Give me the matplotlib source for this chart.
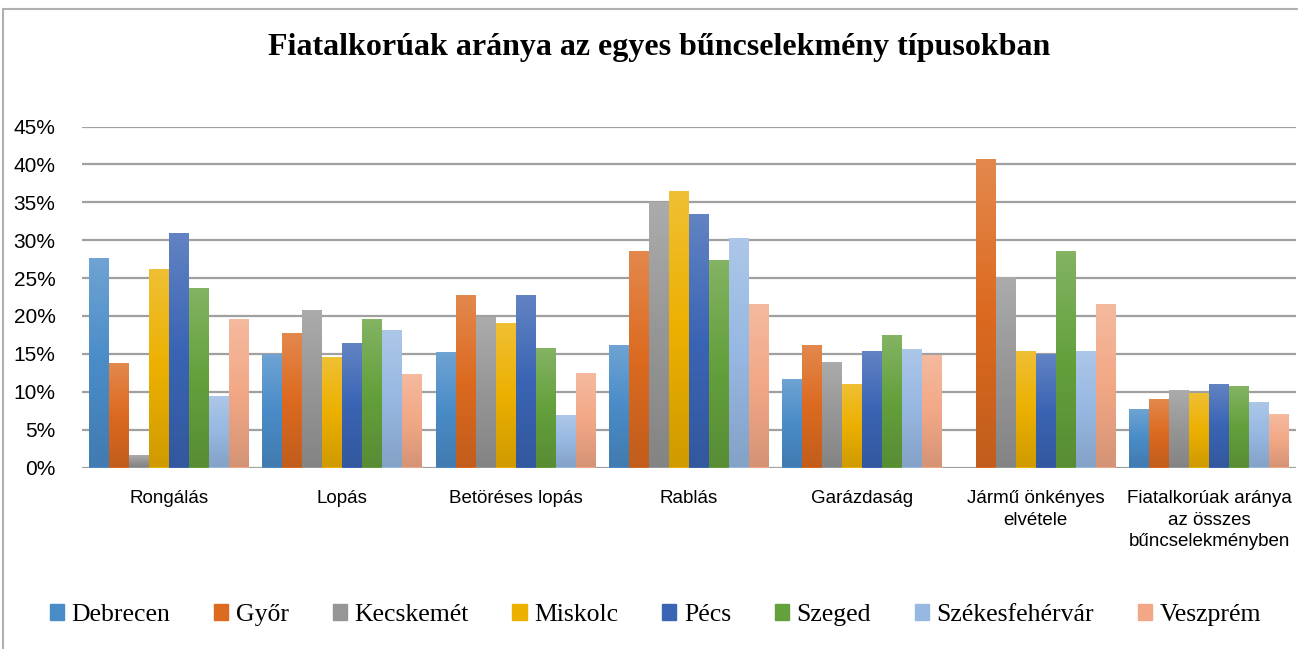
"""Fiatalkorúak aránya az egyes bűncselekmény típusokban — csoportos oszlopdiagram."""
import matplotlib
matplotlib.use("Agg")
import matplotlib.pyplot as plt
import numpy as np
from matplotlib.colors import LinearSegmentedColormap, to_rgb
from matplotlib.patches import Patch, Rectangle

KATEGORIAK = ["Rongálás", "Lopás", "Betöréses lopás", "Rablás", "Garázdaság",
              "Jármű önkényes\nelvétele",
              "Fiatalkorúak aránya\naz összes\nbűncselekményben"]
VAROSOK = ["Debrecen", "Győr", "Kecskemét", "Miskolc", "Pécs", "Szeged",
           "Székesfehérvár", "Veszprém"]

# értékek %-ban, kategóriák sorrendjében
debrecen = [27.5, 14.9, 15.1, 16.0, 11.6, 0.0, 7.6]
gyor = [13.6, 17.6, 22.6, 28.4, 16.0, 40.6, 8.9]
kecskemet = [1.5, 20.6, 19.7, 34.9, 13.8, 25.0, 10.1]
miskolc = [26.0, 14.4, 18.9, 36.4, 10.9, 15.2, 9.7]
pecs = [30.8, 16.3, 22.6, 33.3, 15.2, 14.9, 10.9]
szeged = [23.6, 19.4, 15.6, 27.3, 17.4, 28.5, 10.6]
szekesfehervar = [9.3, 18.0, 6.8, 30.1, 15.5, 15.3, 8.5]
veszprem = [19.4, 12.2, 12.4, 21.5, 14.7, 21.4, 6.9]
ADATOK = [debrecen, gyor, kecskemet, miskolc, pecs, szeged, szekesfehervar, veszprem]

SZINEK = ["#4a8cc8", "#dc6a20", "#969696", "#ecb000", "#3a64b4", "#64a03c",
          "#97b8e2", "#f2a886"]


def keveres(c, cel, t):
    c = np.array(to_rgb(c))
    return tuple(c + (np.array(cel) - c) * t)


fig = plt.figure(figsize=(12.98, 6.49), dpi=100)
ax = fig.add_axes([82 / 1298, 1 - 467.5 / 649, 1214 / 1298, 341 / 649])

x = np.arange(len(KATEGORIAK))
w = 0.1153
grad = np.linspace(1, 0, 64).reshape(-1, 1)
for i, (vals, szin) in enumerate(zip(ADATOK, SZINEK)):
    bars = ax.bar(x + (i - 3.5) * w, vals, w, color=szin, zorder=2)
    cmap = LinearSegmentedColormap.from_list(
        "g", [keveres(szin, (0, 0, 0), 0.12), szin, keveres(szin, (1, 1, 1), 0.2)])
    for b in bars:
        if b.get_height() <= 0:
            continue
        x0, bw, h = b.get_x(), b.get_width(), b.get_height()
        ax.imshow(grad, cmap=cmap, extent=(x0, x0 + bw, 0, h), aspect="auto",
                  zorder=3, interpolation="bilinear")

ax.set_xlim(-0.5, len(KATEGORIAK) - 0.5)
ax.set_ylim(0, 45)
ax.set_yticks(np.arange(0, 46, 5))
ax.set_yticklabels([f"{v}%" for v in range(0, 46, 5)],
                   family="Liberation Sans", fontsize=15)
ax.set_xticks(x)
ax.set_xticklabels(KATEGORIAK, family="Liberation Sans", fontsize=13.5,
                   linespacing=1.37)
ax.tick_params(axis="both", length=0)
ax.tick_params(axis="x", pad=16)
ax.tick_params(axis="y", pad=19)
ax.grid(axis="y", color="#a0a0a0", lw=1.6, zorder=0)
for s in ax.spines.values():
    s.set_visible(False)

fig.text(0.508, 1 - 48 / 649, "Fiatalkorúak aránya az egyes bűncselekmény típusokban",
         ha="center", va="center", family="Liberation Serif", fontweight="bold",
         fontsize=23)

fig.patches.append(Rectangle((3 / 1298, -0.1), 1.2, 1.1 - 9 / 649,
                             transform=fig.transFigure, fill=False,
                             edgecolor="#b0b0b0", lw=1.5))

handles = [Patch(color=c) for c in SZINEK]
fig.legend(handles, VAROSOK, loc="center", bbox_to_anchor=(0.505, 1 - 615 / 649),
           ncol=8, frameon=False, prop={"family": "Liberation Serif", "size": 18.5},
           handlelength=0.55, handleheight=0.55, handletextpad=0.3,
           columnspacing=1.7)

plt.savefig("out.png", dpi=100)
